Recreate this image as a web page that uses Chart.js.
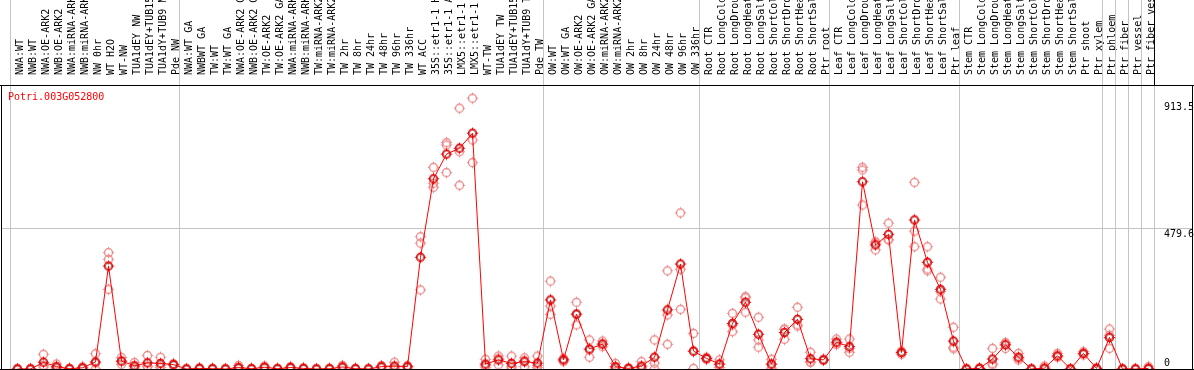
<!DOCTYPE html>
<html><head><meta charset="utf-8">
<script src="https://cdn.jsdelivr.net/npm/chart.js@4.4.1/dist/chart.umd.min.js"></script>
<style>html,body{margin:0;padding:0;background:#fff;overflow:hidden}canvas{display:block}</style>
</head><body>
<canvas id="c" width="1194" height="370"></canvas>
<script>
const geneId = "Potri.003G052800";
const categories = [
 "NWA:WT","NWB:WT","NWA:OE-ARK2","NWB:OE-ARK2","NWA:miRNA-ARK2","NWB:miRNA-ARK2","NW 0hr","WT H2O","WT-NW","TUA1dEY NW","TUA1dEY+TUB15 NW","TUA1dY+TUB9 NW","Pde NW",
 "NWA:WT GA","NWBWT GA","TW:WT","TW:WT GA","NWA:OE-ARK2 GA","NWB:OE-ARK2 GA","TW:OE-ARK2","TW:OE-ARK2 GA","NWA:miRNA-ARK2 GA","NWB:miRNA-ARK2 GA","TW:miRNA-ARK2","TW:miRNA-ARK2 GA","TW 2hr","TW 8hr","TW 24hr","TW 48hr","TW 96hr","TW 336hr","WT ACC","35S::etr1-1 H2O","35S::etr1-1 ACC","LMX5::etr1-1 H2O","LMX5::etr1-1 ACC","WT-TW","TUA1dEY TW","TUA1dEY+TUB15 TW","TUA1dY+TUB9 TW","Pde TW",
 "OW:WT","OW:WT GA","OW:OE-ARK2","OW:OE-ARK2 GA","OW:miRNA-ARK2","OW:miRNA-ARK2 GA","OW 2hr","OW 8hr","OW 24hr","OW 48hr","OW 96hr","OW 336hr",
 "Root CTR","Root LongCold","Root LongDrought","Root LongHeat","Root LongSalt","Root ShortCold","Root ShortDrought","Root ShortHeat","Root ShortSalt","Ptr root",
 "Leaf CTR","Leaf LongCold","Leaf LongDrought","Leaf LongHeat","Leaf LongSalt","Leaf ShortCold","Leaf ShortDrought","Leaf ShortHeat","Leaf ShortSalt","Ptr leaf",
 "Stem CTR","Stem LongCold","Stem LongDrought","Stem LongHeat","Stem LongSalt","Stem ShortCold","Stem ShortDrought","Stem ShortHeat","Stem ShortSalt","Ptr shoot","Ptr xylem",
 "Ptr phloem","Ptr fiber","Ptr vessel","Ptr fiber vessel"
];
const groupSizes = [13, 28, 12, 10, 10, 11, 1, 1, 1, 1];
const meanValues = [
 0,0,23,8,1,4,24,350,27,11,21,19,15,
 0,2,1,0,5,1,6,1,5,2,0,1,7,1,0,8,10,8,380,647,731,751,802,17,31,19,25,20,
 235,31,187,68,85,8,2,10,40,201,357,61,
 36,17,155,227,118,17,124,169,35,31,
 91,76,637,422,458,56,507,363,271,95,
 0,2,34,82,40,0,3,45,0,53,2,
 107,0,0,2
];
const rep1 = [
 0,1,50,17,2,7,52,396,39,22,46,40,18,
 1,4,2,1,12,2,10,2,8,4,1,2,12,2,1,12,23,12,450,686,770,887,921,33,44,44,38,44,
 299,36,227,99,95,19,4,25,99,334,531,121,
 40,31,189,246,176,33,136,210,57,33,
 102,102,686,433,496,61,635,416,312,142,
 0,4,70,90,53,0,10,53,0,59,4,
 136,0,0,8
];
const rep2 = [
 0,0,12,5,1,4,20,373,26,8,10,12,15,
 0,1,1,0,2,1,5,1,5,1,0,1,6,1,0,8,5,8,428,632,762,739,779,12,35,10,29,12,
 214,31,185,65,85,5,1,5,20,184,339,60,
 36,15,150,242,99,15,135,146,25,31,
 88,70,677,428,439,56,469,340,264,74,
 0,1,18,85,35,0,0,42,0,52,1,
 115,0,0,0
];
const rep3 = [
 0,0,7,2,0,1,0,271,16,3,7,5,12,
 0,1,0,0,1,0,3,0,2,1,0,0,3,0,0,4,2,4,269,618,668,625,702,6,14,4,8,5,
 186,25,150,40,76,1,0,1,0,84,203,2,
 32,5,127,193,74,3,101,150,22,29,
 83,57,558,405,440,50,416,334,238,69,
 0,0,14,70,31,0,0,40,0,48,0,
 70,0,0,0
];
const yTickValues = [0, 479.6, 913.5];
const yTickLabels = ["0", "479.6", "913.5"];
const yAxisMax = 966;

const FONT = '10px "DejaVu Sans Mono", monospace';

function makeMarker(ring, inner) {
  const c = document.createElement('canvas');
  c.width = 13; c.height = 13;
  const g = c.getContext('2d');
  g.strokeStyle = ring; g.lineWidth = 1.3;
  g.beginPath(); g.arc(6.5, 6.5, 4, 0, Math.PI * 2); g.stroke();
  g.lineWidth = 1;
  g.beginPath();
  g.moveTo(6.5, 0.8); g.lineTo(6.5, 3.2);
  g.moveTo(6.5, 9.8); g.lineTo(6.5, 12.2);
  g.moveTo(0.8, 6.5); g.lineTo(3.2, 6.5);
  g.moveTo(9.8, 6.5); g.lineTo(12.2, 6.5);
  g.stroke();
  if (inner) {
    g.strokeStyle = inner; g.lineWidth = 0.8;
    g.beginPath(); g.arc(6.5, 6.5, 3.1, 0, Math.PI * 2); g.stroke();
  }
  return c;
}
const repMarker = makeMarker('rgb(236,140,140)', null);
const meanMarker = makeMarker('#ff0000', 'rgba(90,0,0,0.7)');

const bounds = [0];
groupSizes.forEach(n => bounds.push(bounds[bounds.length - 1] + n));

const decorPlugin = {
  id: 'decor',
  beforeDatasetsDraw(chart) {
    const { ctx, chartArea: a, scales: { x, y } } = chart;
    ctx.save();
    ctx.fillStyle = '#c4c4c4';
    bounds.forEach(idx => {
      const px = Math.round(x.getPixelForValue(idx - 0.5));
      ctx.fillRect(px - 1, 0, 1, a.bottom);
    });
    const gy = Math.round(y.getPixelForValue(yTickValues[1]));
    ctx.fillRect(1, gy, chart.width - 3, 1);
    ctx.restore();
  },
  afterDatasetsDraw(chart) {
    const { ctx, chartArea: a, scales: { x, y } } = chart;
    ctx.save();
    ctx.fillStyle = '#000';
    ctx.fillRect(0, a.top, chart.width, 1);
    ctx.fillRect(1, a.top, 1, a.bottom - a.top + 1);
    ctx.fillRect(chart.width - 2, a.top, 1, a.bottom - a.top + 1);
    ctx.fillRect(0, a.bottom, chart.width, 1);
    ctx.fillRect(Math.round(x.getPixelForValue(bounds[bounds.length - 1] - 0.5)) - 1, 0, 1, a.top);
    ctx.font = FONT;
    ctx.textAlign = 'left';
    ctx.textBaseline = 'alphabetic';
    yTickValues.forEach((v, i) => {
      const py = y.getPixelForValue(v);
      const by = v === 0 ? py - 3.5 : py + 9.5;
      ctx.fillText(yTickLabels[i], a.right + 9, by);
    });
    ctx.fillStyle = '#ff0000';
    ctx.fillText(geneId, 8, 100);
    ctx.restore();
  }
};

const repDataset = (data) => ({
  data, showLine: false, pointStyle: repMarker, pointRadius: 5,
  borderColor: 'rgb(236,140,140)', clip: { left: 6, right: 6, top: 6, bottom: 0 }
});

new Chart(document.getElementById('c'), {
  type: 'line',
  data: {
    labels: categories,
    datasets: [
      { data: meanValues, borderColor: '#ff0000', borderWidth: 1, tension: 0,
        pointStyle: meanMarker, pointRadius: 5, clip: { left: 6, right: 6, top: 6, bottom: 0 } },
      repDataset(rep1), repDataset(rep2), repDataset(rep3)
    ]
  },
  options: {
    responsive: false, animation: false, devicePixelRatio: 1, events: [],
    layout: { autoPadding: false, padding: { left: 11, right: 0, top: 0, bottom: 1 } },
    plugins: { legend: { display: false }, tooltip: { enabled: false }, title: { display: false } },
    scales: {
      x: {
        type: 'category', position: 'top', offset: true,
        grid: { display: false }, border: { display: false },
        ticks: { autoSkip: false, minRotation: 90, maxRotation: 90, padding: 2, labelOffset: 15,
                 color: '#000', font: { family: '"DejaVu Sans Mono", monospace', size: 10 } },
        afterFit(s) { s.height = 85; }
      },
      y: {
        position: 'right', min: 0, max: yAxisMax,
        grid: { display: false }, border: { display: false },
        ticks: { display: false },
        afterFit(s) { s.width = 39; }
      }
    }
  },
  plugins: [decorPlugin]
});
</script>
</body></html>
